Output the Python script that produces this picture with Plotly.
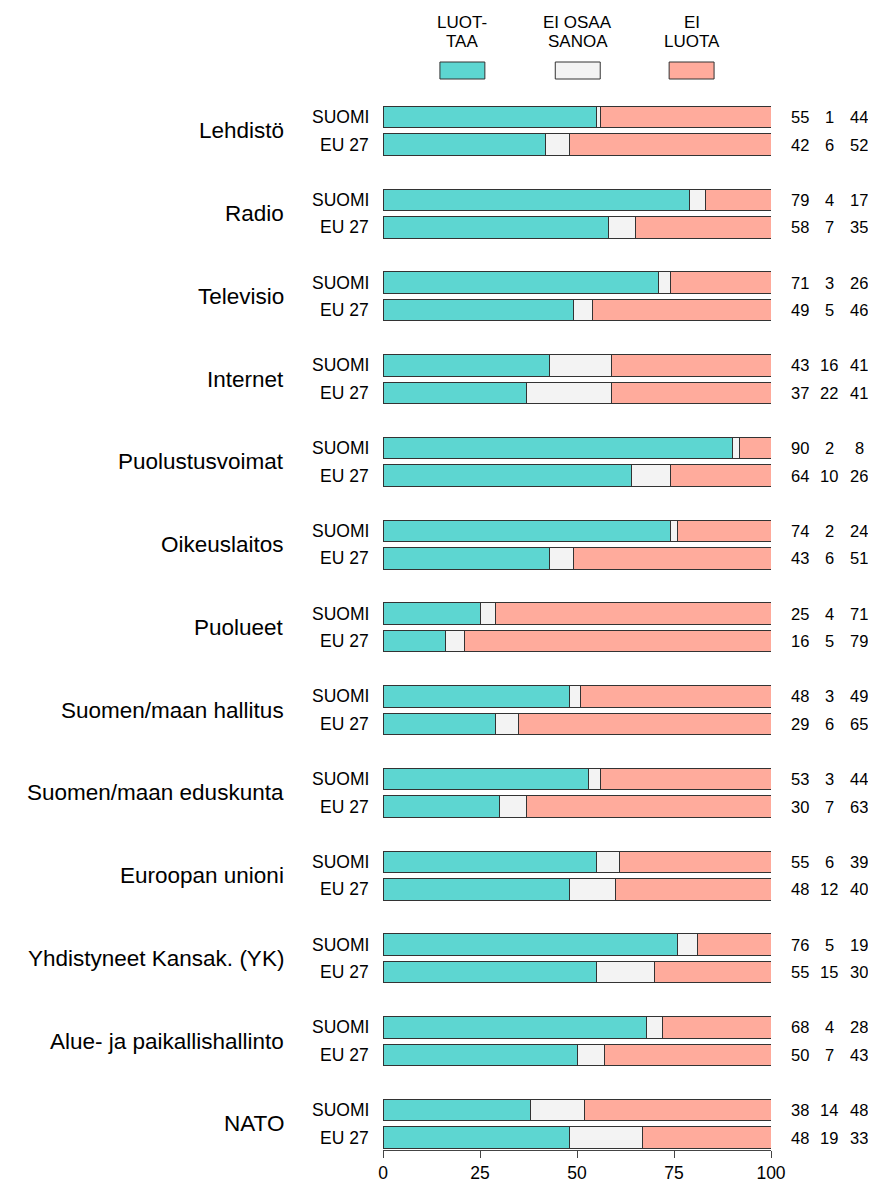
import plotly.graph_objects as go

categories = [
    "Lehdistö", "Radio", "Televisio", "Internet", "Puolustusvoimat",
    "Oikeuslaitos", "Puolueet", "Suomen/maan hallitus",
    "Suomen/maan eduskunta", "Euroopan unioni",
    "Yhdistyneet Kansak. (YK)", "Alue- ja paikallishallinto", "NATO",
]
groups = ["SUOMI", "EU 27"]
series_names = ["LUOT-<br>TAA", "EI OSAA<br>SANOA", "EI<br>LUOTA"]

suomi_trust = [55, 79, 71, 43, 90, 74, 25, 48, 53, 55, 76, 68, 38]
suomi_dk = [1, 4, 3, 16, 2, 2, 4, 3, 3, 6, 5, 4, 14]
suomi_distrust = [44, 17, 26, 41, 8, 24, 71, 49, 44, 39, 19, 28, 48]
eu_trust = [42, 58, 49, 37, 64, 43, 16, 29, 30, 48, 55, 50, 48]
eu_dk = [6, 7, 5, 22, 10, 6, 5, 6, 7, 12, 15, 7, 19]
eu_distrust = [52, 35, 46, 41, 26, 51, 79, 65, 63, 40, 30, 43, 33]

colors = ["#5dd6d1", "#f3f3f3", "#ffab9c"]
edge = "#333333"
font = "Liberation Sans, Arial, sans-serif"

# the page body adds an 8px margin, so the figure starts 8px in
OFF = 8
W, H = 876 - 2 * OFF, 1182 - OFF
L, R, T, B = 382.5, 771.0, 95.0, 1150.0   # plot area in page pixels
ROW0, STEP, PAIR = 117.0, 82.75, 27.5      # bar centres in page pixels


def px_x(x):
    return (x - L) / (R - L)


def px_y(y):
    return (B - y) / (B - T)


def to_row(y):
    return (y - ROW0) / STEP


pair_off = PAIR / STEP
bar_w = 21.5 / STEP

y_pos, vals = [], [[], [], []]
for i in range(len(categories)):
    for j, (a, b, c) in enumerate([
        (suomi_trust[i], suomi_dk[i], suomi_distrust[i]),
        (eu_trust[i], eu_dk[i], eu_distrust[i]),
    ]):
        y_pos.append(i + j * pair_off)
        vals[0].append(a)
        vals[1].append(b)
        vals[2].append(c)

fig = go.Figure()
for k in range(3):
    fig.add_trace(go.Bar(
        x=vals[k], y=y_pos, orientation="h", width=bar_w,
        marker=dict(color=colors[k], line=dict(color=edge, width=1)),
        name=series_names[k].replace("<br>", " "), hoverinfo="x+name",
    ))

ann = []
for i, cat in enumerate(categories):
    ann.append(dict(x=px_x(285), y=i + pair_off / 2, xref="paper", yref="y",
                    text=cat, xanchor="right", yanchor="middle", showarrow=False,
                    font=dict(size=22.5, color="black", family=font)))
for n, yv in enumerate(y_pos):
    ann.append(dict(x=px_x(370), y=yv, xref="paper", yref="y",
                    text=groups[n % 2], xanchor="right", yanchor="middle",
                    showarrow=False, font=dict(size=17.5, color="black", family=font)))
    for k, cx in enumerate([800, 829.5, 859.5]):
        ann.append(dict(x=px_x(cx), y=yv, xref="paper", yref="y",
                        text=str(vals[k][n]), xanchor="center", yanchor="middle",
                        showarrow=False, font=dict(size=16.5, color="black", family=font)))

# legend: two text lines above a coloured box
shapes = []
for k, cx in enumerate([462, 577.5, 691.5]):
    shapes.append(dict(type="rect", xref="paper", yref="paper",
                       x0=px_x(cx - 22.5), x1=px_x(cx + 22.5),
                       y0=px_y(79), y1=px_y(62),
                       fillcolor=colors[k], line=dict(color=edge, width=1)))
    for line, cy in zip(series_names[k].split("<br>"), [22, 41.5]):
        ann.append(dict(x=px_x(cx), y=px_y(cy), xref="paper", yref="paper",
                        text=line, xanchor="center", yanchor="middle",
                        showarrow=False, font=dict(size=17, color="black", family=font)))

fig.update_layout(
    width=W, height=H, barmode="stack", showlegend=False,
    plot_bgcolor="white", paper_bgcolor="white",
    margin=dict(l=L - OFF, r=W - (R - OFF), t=T - OFF, b=H - (B - OFF),
                pad=0, autoexpand=False),
    annotations=ann, shapes=shapes,
    font=dict(family=font, color="black"),
    xaxis=dict(range=[0, 100], tickvals=[0, 25, 50, 75, 100], automargin=False,
               showgrid=False, zeroline=False, showline=True,
               linecolor="#444444", linewidth=1, ticks="outside", ticklen=7,
               tickcolor="#444444", tickfont=dict(size=17.5, color="black", family=font)),
    yaxis=dict(range=[to_row(B), to_row(T)], visible=False, showgrid=False,
               zeroline=False, automargin=False),
)

fig.write_html("out.html")
